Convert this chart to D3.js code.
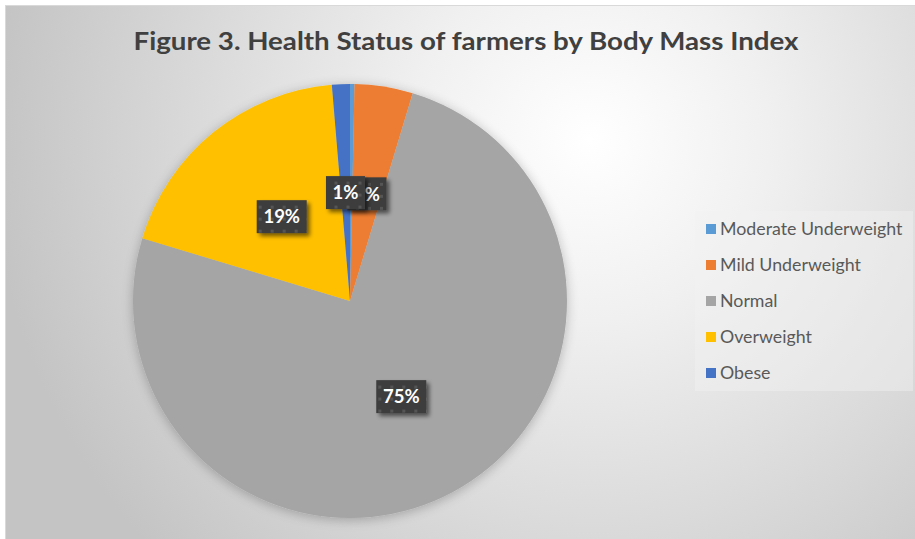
<!DOCTYPE html>
<html>
<head>
<meta charset="utf-8">
<script src="https://cdn.jsdelivr.net/npm/d3@7"></script>
<style>
  body { margin: 0; background: #fff; }
  svg { display: block; }
</style>
</head>
<body>
<div id="chart"></div>
<script>
// data (counts out of 300 farmers)
const categories = ["Moderate Underweight", "Mild Underweight", "Normal", "Overweight", "Obese"];
const counts = [1, 13, 225, 57, 4];
const colors = ["#5B9BD5", "#ED7D31", "#A5A5A5", "#FFC000", "#4472C4"];
const title = "Figure 3. Health Status of farmers by Body Mass Index";

const W = 915, H = 539;
const cx = 350, cy = 301, r = 217;

const svg = d3.select("#chart").append("svg")
  .attr("width", W).attr("height", H);

const defs = svg.append("defs");

const bg = defs.append("radialGradient").attr("id", "bg")
  .attr("gradientUnits", "userSpaceOnUse")
  .attr("cx", 590).attr("cy", 140).attr("r", 600)
  .attr("fx", 590).attr("fy", 140);
bg.append("stop").attr("offset", "0%").attr("stop-color", "#ffffff");
bg.append("stop").attr("offset", "30%").attr("stop-color", "#f0f0f0");
bg.append("stop").attr("offset", "100%").attr("stop-color", "#c4c4c4");

const sh = defs.append("filter").attr("id", "pieShadow")
  .attr("x", "-20%").attr("y", "-20%").attr("width", "140%").attr("height", "140%");
sh.append("feGaussianBlur").attr("in", "SourceAlpha").attr("stdDeviation", 6);
sh.append("feOffset").attr("dx", 0).attr("dy", 2).attr("result", "b");
sh.append("feComponentTransfer").append("feFuncA").attr("type", "linear").attr("slope", 0.25);
const m1 = sh.append("feMerge");
m1.append("feMergeNode");
m1.append("feMergeNode").attr("in", "SourceGraphic");

const lsh = defs.append("filter").attr("id", "lblShadow")
  .attr("x", "-30%").attr("y", "-30%").attr("width", "170%").attr("height", "170%");
lsh.append("feGaussianBlur").attr("in", "SourceAlpha").attr("stdDeviation", 2);
lsh.append("feOffset").attr("dx", 3).attr("dy", 3);
lsh.append("feComponentTransfer").append("feFuncA").attr("type", "linear").attr("slope", 0.55);
const m2 = lsh.append("feMerge");
m2.append("feMergeNode");
m2.append("feMergeNode").attr("in", "SourceGraphic");

const pat = defs.append("pattern").attr("id", "dots")
  .attr("patternUnits", "userSpaceOnUse").attr("width", 12).attr("height", 12);
pat.append("rect").attr("width", 12).attr("height", 12).attr("fill", "#3d3d3d");
pat.append("rect").attr("x", 1).attr("y", 1).attr("width", 3).attr("height", 3).attr("fill", "#555");

// background + frame
svg.append("rect").attr("x", 5.5).attr("y", 5.5).attr("width", W).attr("height", H)
  .attr("fill", "url(#bg)").attr("stroke", "#d9d9d9").attr("stroke-width", 1);

svg.append("text")
  .attr("x", 466).attr("y", 50)
  .attr("text-anchor", "middle")
  .attr("font-family", "Lato, 'Open Sans', sans-serif")
  .attr("font-weight", "bold").attr("font-size", 24)
  .attr("fill", "#404040")
  .attr("textLength", 665).attr("lengthAdjust", "spacingAndGlyphs")
  .text(title);

const total = d3.sum(counts);
const data = categories.map((c, i) => ({ name: c, value: counts[i], color: colors[i] }));

const pie = d3.pie().sort(null).value(d => d.value);
const arcs = pie(data);
const arc = d3.arc().innerRadius(0).outerRadius(r);
const labelArc = d3.arc().innerRadius(0).outerRadius(r);

const g = svg.append("g").attr("transform", `translate(${cx},${cy})`);
g.append("g").attr("filter", "url(#pieShadow)")
  .selectAll("path").data(arcs).join("path")
  .attr("d", arc)
  .attr("fill", d => d.data.color);

// data labels (the 0% one sits fully hidden under its neighbours in the figure)
const fmt = d => Math.round(d.data.value / total * 100) + "%";
const shown = arcs.filter(d => Math.round(d.data.value / total * 100) > 0);
const lbl = g.append("g").selectAll("g").data(shown).join("g")
  .attr("transform", d => `translate(${labelArc.centroid(d)})`);

lbl.each(function(d) {
  const el = d3.select(this);
  const t = fmt(d);
  const bw = t.length > 2 ? 50 : 39, bh = 33;
  el.append("rect")
    .attr("x", -bw / 2).attr("y", -bh / 2).attr("width", bw).attr("height", bh)
    .attr("fill", "url(#dots)").attr("filter", "url(#lblShadow)");
  el.append("text")
    .attr("text-anchor", "middle").attr("dy", "0.36em")
    .attr("font-family", "Lato, 'Open Sans', sans-serif")
    .attr("font-weight", "bold").attr("font-size", 18.5)
    .attr("fill", "#ffffff")
    .text(t);
});

// legend
const leg = svg.append("g");
leg.append("rect").attr("x", 695).attr("y", 211).attr("width", 218).attr("height", 180)
  .attr("fill", "#f2f2f2").attr("fill-opacity", 0.45);

const yL = d3.scalePoint().domain(categories).range([229, 373]);
const li = leg.selectAll("g.item").data(data).join("g")
  .attr("class", "item")
  .attr("transform", d => `translate(706,${yL(d.name)})`);
li.append("rect").attr("x", 0).attr("y", -5).attr("width", 10).attr("height", 10)
  .attr("fill", d => d.color);
li.append("text").attr("x", 14).attr("dy", "0.35em")
  .attr("font-family", "Lato, 'Open Sans', sans-serif")
  .attr("font-size", 17.8).attr("fill", "#595959")
  .text(d => d.name);
</script>
</body>
</html>
